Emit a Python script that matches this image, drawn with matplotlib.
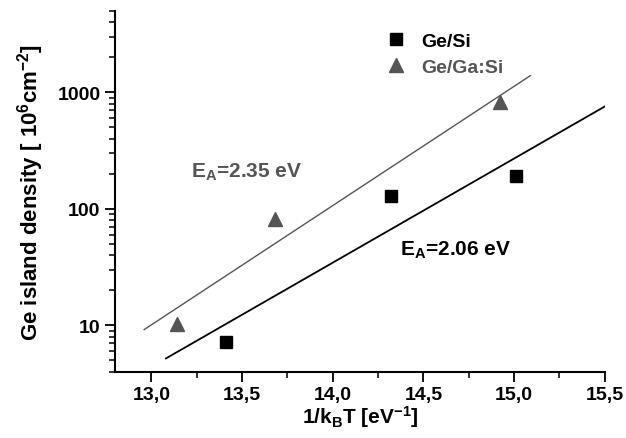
import matplotlib.pyplot as plt
from matplotlib.ticker import LogLocator, FixedLocator, MultipleLocator, NullFormatter, FuncFormatter

plt.rcParams['font.family'] = ['Liberation Sans', 'DejaVu Sans']
plt.rcParams['font.weight'] = 'bold'
plt.rcParams['mathtext.fontset'] = 'custom'
plt.rcParams['mathtext.rm'] = 'Liberation Sans:bold'
plt.rcParams['mathtext.it'] = 'Liberation Sans:bold'
plt.rcParams['mathtext.bf'] = 'Liberation Sans:bold'

# measured points
gesi_x = [13.41, 14.32, 15.01]
gesi_y = [7.2, 130, 193]
gega_x = [13.14, 13.68, 14.92]
gega_y = [10.3, 82, 820]

# Arrhenius fits (end points of the fitted lines)
fit_gesi_x = [13.08, 15.50]
fit_gesi_y = [5.2, 755]
fit_gega_x = [12.96, 15.09]
fit_gega_y = [9.2, 1390]

gray = '#555555'

fig = plt.figure(figsize=(6.26, 4.39), dpi=100)
ax = fig.add_axes([0.184, 0.151, 0.782, 0.822])

ax.plot(fit_gega_x, fit_gega_y, color=gray, lw=1.0)
ax.plot(fit_gesi_x, fit_gesi_y, color='black', lw=1.3)
ax.plot(gesi_x, gesi_y, 's', color='black', ms=8, label='Ge/Si')
ax.plot(gega_x, gega_y, '^', color=gray, ms=10, label='Ge/Ga:Si')

ax.set_yscale('log')
ax.set_xlim(12.8, 15.5)
ax.set_ylim(4, 5000)

ax.xaxis.set_major_locator(FixedLocator([13.0, 13.5, 14.0, 14.5, 15.0, 15.5]))
ax.xaxis.set_minor_locator(MultipleLocator(0.25))
ax.xaxis.set_major_formatter(FuncFormatter(lambda v, p: ('%.1f' % v).replace('.', ',')))
ax.yaxis.set_major_locator(FixedLocator([10, 100, 1000]))
ax.yaxis.set_major_formatter(FuncFormatter(lambda v, p: '%d' % v))
ax.yaxis.set_minor_locator(LogLocator(base=10, subs=range(2, 10)))
ax.yaxis.set_minor_formatter(NullFormatter())

for s in ['top', 'right']:
    ax.spines[s].set_visible(False)
for s in ['left', 'bottom']:
    ax.spines[s].set_linewidth(1.5)
ax.tick_params(which='major', direction='out', length=7, width=1.3, labelsize=14)
ax.tick_params(which='minor', direction='out', length=4, width=1.1)

ax.set_xlabel('1/k$_\\mathregular{B}$T [eV$^\\mathregular{-1}$]', fontsize=15, fontweight='bold', labelpad=0)
ax.set_ylabel('Ge island density [ 10$^\\mathregular{6}$cm$^\\mathregular{-2}$]', fontsize=16, fontweight='bold', labelpad=8)

ax.text(13.22, 210, 'E$_\\mathregular{A}$=2.35 eV', color=gray, fontsize=15, fontweight='bold', va='center')
ax.text(14.37, 45, 'E$_\\mathregular{A}$=2.06 eV', color='black', fontsize=15, fontweight='bold', va='center')

leg = ax.legend(loc='upper left', bbox_to_anchor=(0.506, 0.99), frameon=False, fontsize=14,
                handletextpad=0.5, labelspacing=0.45, handlelength=1.6)
leg.get_texts()[1].set_color(gray)

fig.savefig('out.png', dpi=100)
